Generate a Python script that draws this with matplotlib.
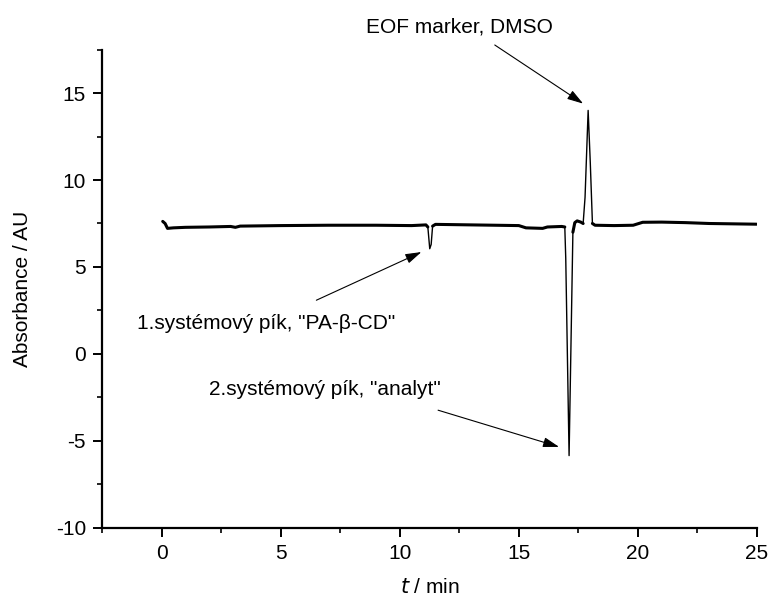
import numpy as np
import matplotlib
matplotlib.use("Agg")
import matplotlib.pyplot as plt
from matplotlib.ticker import MultipleLocator

# electropherogram trace, time in min / absorbance in AU
t_min = [0.05, 0.15, 0.25, 0.5, 1.0, 2.0, 2.9, 3.1, 3.3, 5.0, 7.0, 9.0,
         10.5, 11.1, 11.18, 11.26, 11.32, 11.38, 11.5, 13.0, 15.0, 15.3,
         16.0, 16.2, 16.8, 16.93, 16.97, 17.11, 17.27, 17.35, 17.45, 17.6,
         17.7, 17.78, 17.91, 18.0, 18.09, 18.2, 19.0, 19.8, 20.2, 21.0,
         22.0, 23.0, 24.0, 24.98]
absorb = [7.62, 7.5, 7.22, 7.25, 7.28, 7.3, 7.33, 7.28, 7.35, 7.38, 7.4, 7.4,
          7.38, 7.42, 7.3, 6.05, 6.3, 7.35, 7.45, 7.42, 7.38, 7.25,
          7.22, 7.3, 7.33, 7.3, 5.5, -5.84, 7.0, 7.55, 7.65, 7.58,
          7.5, 9.0, 14.0, 11.0, 7.5, 7.4, 7.38, 7.4, 7.57, 7.58,
          7.55, 7.5, 7.48, 7.46]

# annotations: text, text anchor (t, A), arrow tail, arrow head
notes = [
    ("EOF marker, DMSO", (8.60, 18.49), (13.99, 17.76), (17.70, 14.39)),
    ('1.systémový pík, "PA-β-CD"', (-1.05, 1.43), (6.50, 3.09), (10.91, 5.86)),
    ('2.systémový pík, "analyt"', (1.99, -2.37), (11.61, -3.23), (16.69, -5.34)),
]

plt.rcParams["font.family"] = ["Liberation Sans", "DejaVu Sans"]
plt.rcParams["font.size"] = 15
plt.rcParams["axes.unicode_minus"] = False

fig = plt.figure(figsize=(7.68, 5.98), dpi=100)
ax = fig.add_axes([0.1328, 0.1171, 0.9857 - 0.1328, 0.9172 - 0.1171])

t = np.array(t_min)
a = np.array(absorb)
ax.plot(t, a, color="k", lw=1.0, solid_joinstyle="round")
# noisy baseline reads thicker than the steep peak flanks
base = np.where(np.abs(a - 7.42) < 0.45, a, np.nan)
ax.plot(t, base, color="k", lw=2.2, solid_capstyle="round")

for text, pos, tail, head in notes:
    ax.text(pos[0], pos[1], text, ha="left", va="baseline", clip_on=False)
    ax.annotate("", xy=head, xytext=tail, annotation_clip=False,
                arrowprops=dict(arrowstyle="-|>,head_length=0.65,head_width=0.2",
                                color="k", lw=0.8, shrinkA=0, shrinkB=0,
                                mutation_scale=15))

ax.set_xlim(-2.5, 25)
ax.set_ylim(-10, 17.5)
ax.xaxis.set_major_locator(MultipleLocator(5))
ax.xaxis.set_minor_locator(MultipleLocator(2.5))
ax.yaxis.set_major_locator(MultipleLocator(5))
ax.yaxis.set_minor_locator(MultipleLocator(2.5))

for side in ("top", "right"):
    ax.spines[side].set_visible(False)
for side in ("left", "bottom"):
    ax.spines[side].set_linewidth(1.6)
ax.tick_params(which="major", direction="out", length=6.5, width=1.4, pad=5)
ax.tick_params(which="minor", direction="out", length=3.5, width=1.2)

ax.set_xlabel("$t$ / min", labelpad=11)
ax.set_ylabel("Absorbance / AU", labelpad=17)

fig.savefig("out.png", dpi=100)
